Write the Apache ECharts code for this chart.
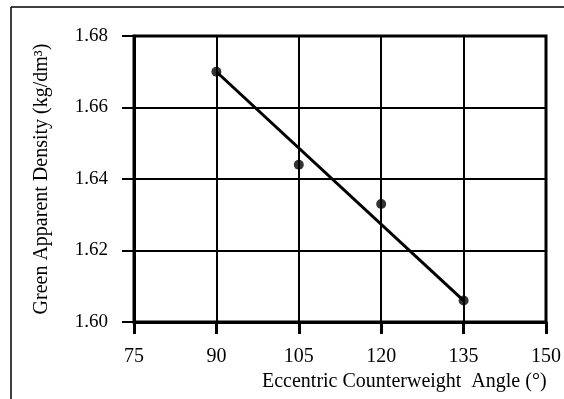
<!DOCTYPE html>
<html><head><meta charset="utf-8">
<script src="https://cdn.jsdelivr.net/npm/echarts@6/dist/echarts.min.js"></script>
<style>html,body{margin:0;padding:0;background:#fff}#c{width:564px;height:399px}</style>
</head><body><div id="c"></div>
<script>
const angles = [90, 105, 120, 135];
const density = [1.670, 1.644, 1.633, 1.606];
const fitX = [90, 135];
const fitY = [1.670, 1.606];
const xTicks = [75, 90, 105, 120, 135, 150];
const yTicks = [1.60, 1.62, 1.64, 1.66, 1.68];
const xTitle = 'Eccentric Counterweight  Angle (°)';
const yTitle = 'Green Apparent Density (kg/dm³)';

const font = 'Liberation Serif';
const chart = echarts.init(document.getElementById('c'), null, {renderer: 'canvas'});
chart.setOption({
  animation: false,
  backgroundColor: '#fff',
  grid: {left: 134, right: 14, top: 36, bottom: 77, show: true, borderColor: '#000', borderWidth: 3},
  xAxis: {
    type: 'value', min: xTicks[0], max: xTicks[xTicks.length-1], interval: 15,
    axisLine: {show: true, lineStyle: {color: '#000', width: 3}},
    axisTick: {show: true, inside: false, length: 12, lineStyle: {color: '#000', width: 3}},
    axisLabel: {color: '#000', fontFamily: font, fontSize: 20, margin: 25},
    splitLine: {show: true, lineStyle: {color: '#000', width: 2}}
  },
  yAxis: {
    type: 'value', min: yTicks[0], max: yTicks[yTicks.length-1], interval: 0.02,
    name: yTitle, nameLocation: 'middle', nameGap: 82, nameRotate: 90,
    nameTextStyle: {color: '#000', fontFamily: font, fontSize: 20},
    axisLine: {show: true, lineStyle: {color: '#000', width: 3}},
    axisTick: {show: true, length: 12, lineStyle: {color: '#000', width: 2}},
    axisLabel: {color: '#000', fontFamily: font, fontSize: 19, margin: 26,
      formatter: v => v.toFixed(2)},
    splitLine: {show: true, lineStyle: {color: '#000', width: 2}}
  },
  graphic: [
    {type: 'line', shape: {x1: 11, y1: 7, x2: 564, y2: 7}, style: {stroke: '#000', lineWidth: 1.5}},
    {type: 'line', shape: {x1: 11, y1: 7, x2: 11, y2: 399}, style: {stroke: '#000', lineWidth: 1.5}},
    {type: 'text', left: 262, top: 372, style: {text: xTitle, fill: '#000', font: '20px "Liberation Serif"'}}
  ],
  series: [
    {type: 'line', data: fitX.map((x, i) => [x, fitY[i]]), symbol: 'none',
      lineStyle: {color: '#000', width: 3}, z: 3},
    {type: 'scatter', data: angles.map((x, i) => [x, density[i]]), symbol: 'circle', symbolSize: 10,
      itemStyle: {color: '#000'}, z: 4}
  ]
});
</script></body></html>
